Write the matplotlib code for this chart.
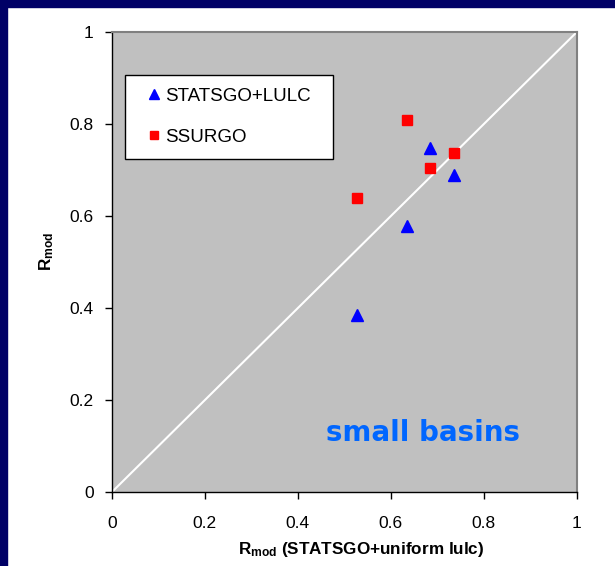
import matplotlib
matplotlib.use("Agg")
import matplotlib.pyplot as plt
from matplotlib.patches import Rectangle

plt.rcParams['font.family'] = ['Liberation Sans', 'DejaVu Sans']
plt.rcParams['mathtext.fontset'] = 'custom'
plt.rcParams['mathtext.rm'] = 'Liberation Sans'
plt.rcParams['mathtext.bf'] = 'Liberation Sans:bold'

# data
x_uniform = [0.527, 0.634, 0.684, 0.735]
y_statsgo_lulc = [0.385, 0.578, 0.748, 0.689]
y_ssurgo = [0.639, 0.809, 0.704, 0.737]
ticks = [0, 0.2, 0.4, 0.6, 0.8, 1]
tick_labels = ["0", "0.2", "0.4", "0.6", "0.8", "1"]

fig = plt.figure(figsize=(6.15, 5.66), dpi=100)
fig.patch.set_facecolor("white")
navy = "#000066"
fig.patches.append(Rectangle((0, 0), 7/615, 1, transform=fig.transFigure, color=navy, zorder=0))
fig.patches.append(Rectangle((0, 1-7/566), 1, 7/566, transform=fig.transFigure, color=navy, zorder=0))

ax = fig.add_axes([0.182, 0.1307, 0.756, 0.8128])
ax.set_facecolor("#c0c0c0")
ax.plot([0, 1], [0, 1], color="white", lw=1.5, zorder=1)
ax.plot(x_uniform, y_statsgo_lulc, linestyle="none", marker="^", color="#0000ff",
        markersize=9, label="STATSGO+LULC", zorder=3)
ax.plot(x_uniform, y_ssurgo, linestyle="none", marker="s", color="#ff0000",
        markersize=7.5, label="SSURGO", zorder=3)

ax.set_xlim(0, 1)
ax.set_ylim(0, 1)
ax.set_xticks(ticks)
ax.set_xticklabels(tick_labels)
ax.set_yticks(ticks)
ax.set_yticklabels(tick_labels)
ax.tick_params(direction="out", length=5, width=1, labelsize=12.5, color="black", pad=8)
ax.tick_params(axis="x", pad=12)

for side in ["top", "right"]:
    ax.spines[side].set_color("#808080")
    ax.spines[side].set_linewidth(1.5)
for side in ["left", "bottom"]:
    ax.spines[side].set_color("black")
    ax.spines[side].set_linewidth(1)

ax.set_xlabel(r"$\mathbf{R_{mod}}$ (STATSGO+uniform lulc)", fontsize=12.3, fontweight="bold", labelpad=7)
ax.set_ylabel(r"$\mathbf{R_{mod}}$", fontsize=12.3, fontweight="bold", labelpad=10)
ax.xaxis.label.set_x(0.537)
ax.yaxis.label.set_y(0.524)

leg = ax.legend(loc="upper left", bbox_to_anchor=(0.028, 0.907, 0.447, 0.0), mode="expand",
                borderaxespad=0, fontsize=13.5, fancybox=False, framealpha=1, edgecolor="black",
                handletextpad=-0.27, borderpad=0.7, labelspacing=1.25, handlelength=1.7,
                markerscale=0.8)
leg.get_frame().set_linewidth(1)

ax.text(0.669, 0.128, "small basins", transform=ax.transAxes, ha="center", va="center",
        fontsize=20, fontweight="bold", color="#0066ff", family="DejaVu Sans")

fig.savefig("out.png", dpi=100)
